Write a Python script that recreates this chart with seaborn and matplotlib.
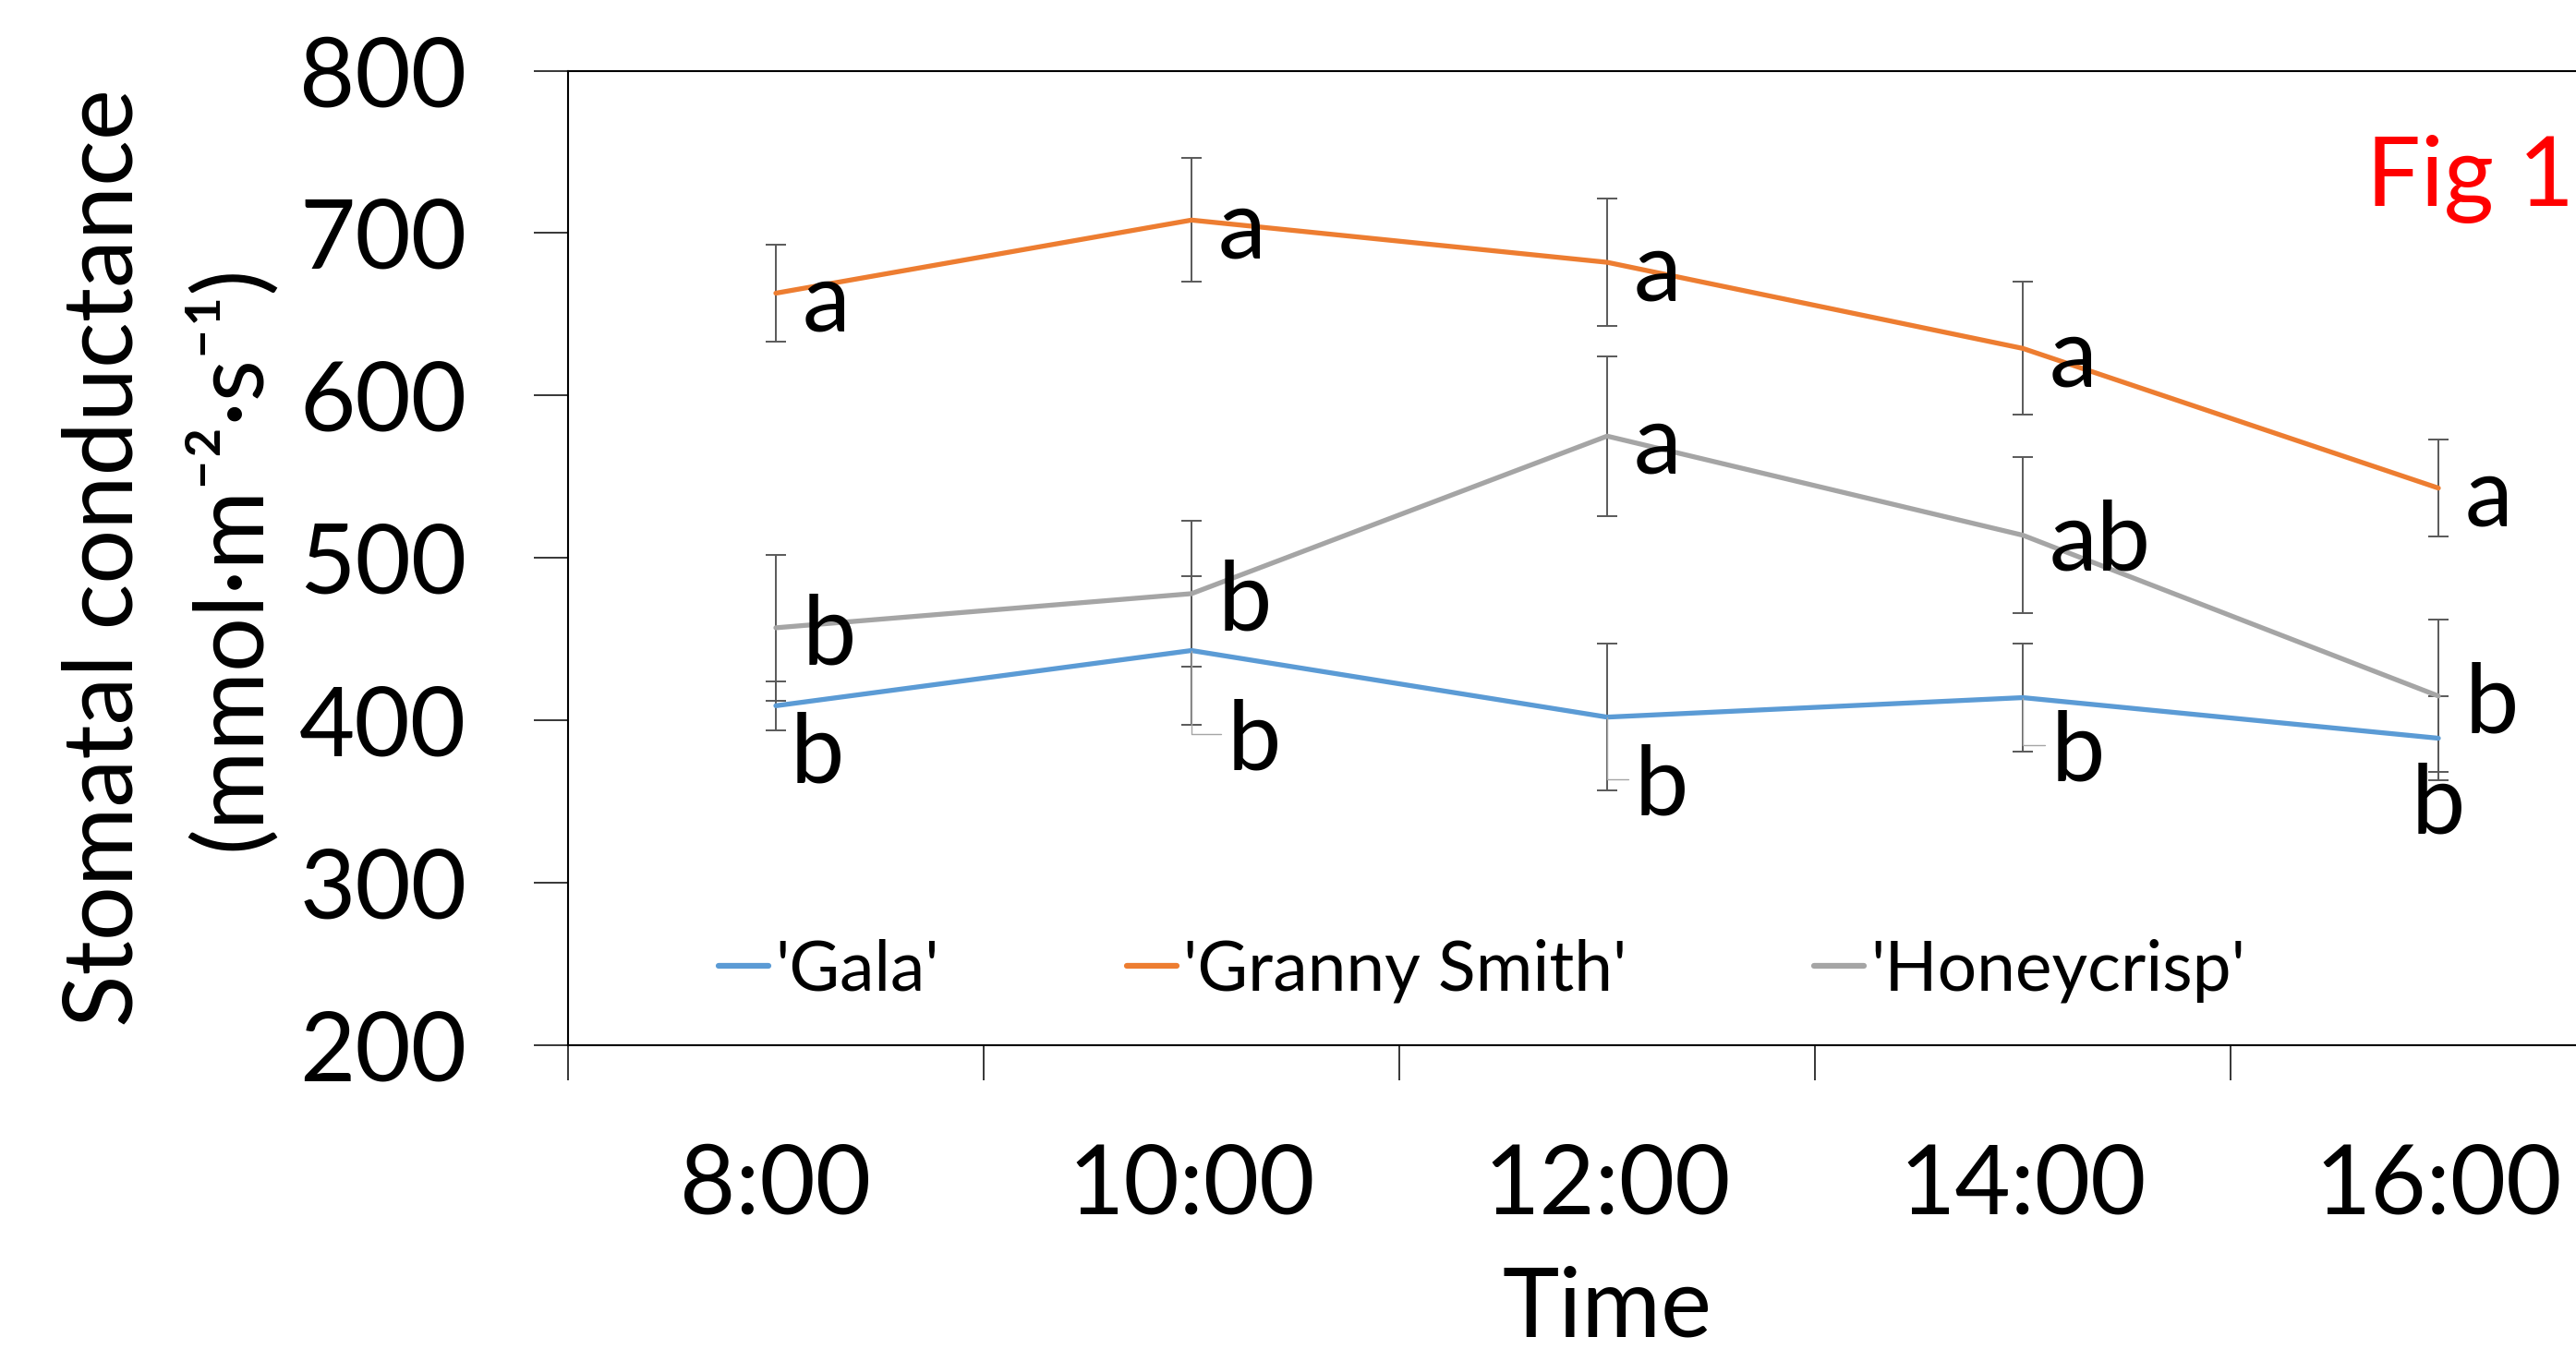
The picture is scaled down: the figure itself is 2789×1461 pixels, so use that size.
import matplotlib
matplotlib.use("Agg")
import matplotlib.pyplot as plt
import numpy as np
import pandas as pd
import seaborn as sns

# data (mean +/- SE, mmol m-2 s-1)
times = ["8:00", "10:00", "12:00", "14:00", "16:00"]
cultivars = ["'Gala'", "'Granny Smith'", "'Honeycrisp'"]

gala_mean = [409, 443, 402, 414, 389]
gala_se = [15, 46, 45, 33, 26]
granny_mean = [663, 708, 682, 629, 543]
granny_se = [30, 38, 39, 41, 30]
honey_mean = [457, 478, 575, 514, 415]
honey_se = [45, 45, 49, 48, 47]

gala_letters = ["b", "b", "b", "b", "b"]
granny_letters = ["a", "a", "a", "a", "a"]
honey_letters = ["b", "b", "a", "ab", "b"]

y_ticks = [200, 300, 400, 500, 600, 700, 800]
colors = ["#5B9BD5", "#ED7D31", "#A5A5A5"]

FS = 75

pos = np.arange(len(times))
df = pd.DataFrame({
    "pos": np.tile(pos, 3),
    "cultivar": np.repeat(cultivars, len(times)),
    "gs": gala_mean + granny_mean + honey_mean,
    "se": gala_se + granny_se + honey_se,
})

sns.set_theme(style="white")
plt.rcParams["font.family"] = ["Lato", "DejaVu Sans"]
plt.rcParams.update({
    "text.color": "black",
    "axes.labelcolor": "black",
    "xtick.color": "black",
    "ytick.color": "black",
})

fig = plt.figure(figsize=(27.89, 14.61), dpi=100)
W, H = 2789, 1461
ax = fig.add_axes([615 / W, (H - 1132) / H, 2250 / W, 1055.5 / H])

sns.lineplot(
    data=df, x="pos", y="gs", hue="cultivar", hue_order=cultivars,
    palette=colors, sort=False, linewidth=3.8, errorbar=None,
    ax=ax, zorder=3,
)

for name in cultivars:
    sub = df[df["cultivar"] == name]
    ax.errorbar(
        sub["pos"], sub["gs"], yerr=sub["se"], fmt="none",
        ecolor="#595959", elinewidth=1.4, capsize=8, capthick=1.4, zorder=2,
    )

# significance letters (Excel data labels)
label_sets = [
    (gala_mean, gala_letters,
     [(16, -83, "left"), (39, -129, "left"), (30, -106, "left"),
      (31, -90, "left"), (0, -103, "center")]),
    (granny_mean, granny_letters, [(29, -41, "left")] * 5),
    (honey_mean, honey_letters,
     [(29, -40, "left"), (29, -40, "left"), (29, -40, "left"),
      (29, -38, "left"), (29, -40, "left")]),
]
leader = {(0, 1), (0, 2), (0, 3)}
for k, (means, letters, offs) in enumerate(label_sets):
    for i, (m, lt, (dx, dy, ha)) in enumerate(zip(means, letters, offs)):
        kw = {}
        if (k, i) in leader:
            kw["arrowprops"] = dict(
                arrowstyle="-", color="#A5A5A5", lw=1.0, shrinkA=3, shrinkB=0,
                connectionstyle="angle,angleA=0,angleB=90,rad=0",
                relpos=(0, 0.6),
            )
        ax.annotate(lt, xy=(pos[i], m), xytext=(dx, dy),
                    textcoords="offset pixels", ha=ha, va="baseline",
                    fontsize=FS, color="black", zorder=4, **kw)

ax.set_xlim(-0.5, len(times) - 0.5)
ax.set_ylim(200, 800)
ax.set_yticks(y_ticks)
ax.set_xticks(pos)
ax.set_xticklabels(times)
ax.set_xticks(np.arange(-0.5, len(times)), minor=True)

ax.tick_params(axis="y", which="major", direction="out", length=27, width=1.1,
               color="black", pad=52, labelsize=FS, left=True)
ax.tick_params(axis="x", which="major", length=0, pad=76, labelsize=FS)
ax.tick_params(axis="x", which="minor", direction="out", length=27, width=1.1,
               color="black", bottom=True)

for sp in ax.spines.values():
    sp.set_color("black")
    sp.set_linewidth(1.5)
    sp.set_visible(True)

ax.set_xlabel("Time", fontsize=FS, labelpad=27)
ax.set_ylabel("Stomatal conductance\n(mmol·m⁻²·s⁻¹)", fontsize=FS,
              labelpad=18, linespacing=1.45)

sns.move_legend(
    ax, "center left", bbox_to_anchor=(0.0724, 0.0767), ncol=3, title=None,
    frameon=False, fontsize=54, handlelength=0.72, handletextpad=0.1,
    columnspacing=2.7, borderpad=0, borderaxespad=0,
)
for h in ax.get_legend().legend_handles:
    h.set_linewidth(4.5)

fig.text(2562 / W, 1 - 223 / H, "Fig 1", color="red", fontsize=FS,
         ha="left", va="baseline")

fig.savefig("out.png", dpi=100)
